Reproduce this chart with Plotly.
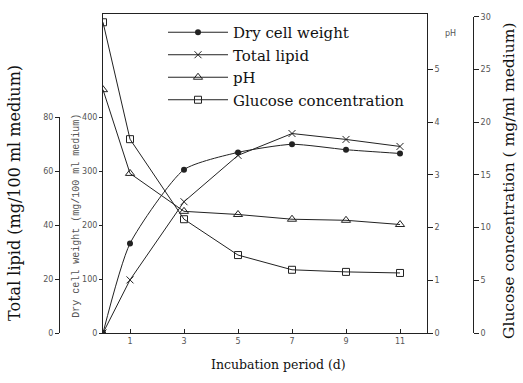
import plotly.graph_objects as go

# ---- data ----
days = [0, 1, 3, 5, 7, 9, 11]
dry_cell_weight = [0, 166, 303, 335, 350, 340, 333]      # mg/100 ml medium
total_lipid = [0, 19.7, 48.7, 65.9, 74.0, 71.8, 69.2]    # mg/100 ml medium
ph_values = [4.62, 3.03, 2.31, 2.25, 2.16, 2.14, 2.06]
glucose = [29.5, 18.4, 10.8, 7.4, 6.0, 5.8, 5.7]         # mg/ml medium

x_ticks = [1, 3, 5, 7, 9, 11]
dcw_ticks = [0, 100, 200, 300, 400]
lipid_ticks = [0, 20, 40, 60, 80]
ph_ticks = [0, 1, 2, 3, 4, 5]
glucose_ticks = [0, 5, 10, 15, 20, 25, 30]

W, H = 523, 383
ML, MR, MT, MB = 20, 10, 12, 50
PW = W - ML - MR
PH = H - MT - MB

def px(xp):
    return (xp - ML) / PW

def py(yp):
    return (H - MB - yp) / PH

INK = "#222222"
TICK = "#555555"
tickfont = dict(family="DejaVu Sans", size=8, color=TICK)

fig = go.Figure()
fig.add_trace(go.Scatter(
    x=days, y=dry_cell_weight, name="Dry cell weight", mode="lines+markers",
    line=dict(color=INK, width=1, shape="spline", smoothing=0.6),
    marker=dict(symbol="circle", size=6, color=INK),
    xaxis="x", yaxis="y"))
fig.add_trace(go.Scatter(
    x=days, y=total_lipid, name="Total lipid", mode="lines+markers",
    line=dict(color=INK, width=1),
    marker=dict(symbol="x-thin-open", size=7, color=INK, line=dict(width=1, color=INK)),
    xaxis="x", yaxis="y2"))
fig.add_trace(go.Scatter(
    x=days, y=ph_values, name="pH", mode="lines+markers",
    line=dict(color=INK, width=1),
    marker=dict(symbol="triangle-up-open", size=8, color=INK, line=dict(width=1, color=INK)),
    xaxis="x", yaxis="y3"))
fig.add_trace(go.Scatter(
    x=days, y=glucose, name="Glucose concentration", mode="lines+markers",
    line=dict(color=INK, width=1),
    marker=dict(symbol="square-open", size=7, color=INK, line=dict(width=1, color=INK)),
    xaxis="x", yaxis="y4"))

fig.update_layout(
    width=W, height=H, autosize=False,
    margin=dict(l=ML, r=MR, t=MT, b=MB),
    paper_bgcolor="white", plot_bgcolor="rgba(0,0,0,0)",
    showlegend=True,
    legend=dict(x=px(163), y=py(14), xanchor="left", yanchor="top",
                bgcolor="rgba(0,0,0,0)", borderwidth=0, itemwidth=60,
                font=dict(family="DejaVu Serif", size=15, color="#111111"),
                tracegroupgap=0),
    xaxis=dict(domain=[px(103), px(427)], range=[0, 12], tickvals=x_ticks,
               ticks="inside", ticklen=4, tickcolor=INK, showline=True,
               linecolor=INK, linewidth=1, mirror=True, showgrid=False,
               zeroline=False, tickfont=tickfont, anchor="y"),
    yaxis=dict(domain=[0, 1], range=[0, 400 * PH / 217], tickvals=dcw_ticks,
               ticks="outside", ticklen=3, tickcolor=INK, showline=True,
               linecolor=INK, linewidth=1, showgrid=False, zeroline=False,
               tickfont=tickfont, anchor="x", side="left"),
    yaxis2=dict(domain=[0, 217 / PH], range=[0, 80], tickvals=lipid_ticks,
                ticks="outside", ticklen=4, tickcolor=INK, showline=True,
                linecolor=INK, linewidth=1, showgrid=False, zeroline=False,
                tickfont=tickfont, anchor="free", position=px(59), side="left"),
    yaxis3=dict(overlaying="y", range=[0, PH / 53.0], tickvals=ph_ticks,
                ticks="outside", ticklen=5, tickcolor=INK, showline=True,
                linecolor=INK, linewidth=1, showgrid=False, zeroline=False,
                tickfont=tickfont, anchor="x", side="right"),
    yaxis4=dict(domain=[0, 318 / PH], range=[0, 30], tickvals=glucose_ticks,
                ticks="outside", ticklen=5, tickcolor=INK, showline=True,
                linecolor=INK, linewidth=1, showgrid=False, zeroline=False,
                tickfont=tickfont, anchor="free", position=px(473), side="right"),
)

ann = [
    dict(text="Total lipid (mg/100 ml medium)", x=px(15), y=py(192), textangle=-90,
         font=dict(family="DejaVu Serif", size=16, color="#111111")),
    dict(text="Dry cell weight (mg/100 ml medium)", x=px(77), y=py(215), textangle=-90,
         font=dict(family="Liberation Mono", size=10, color=TICK)),
    dict(text="Glucose concentration ( mg/ml medium)", x=px(509), y=py(180), textangle=-90,
         font=dict(family="DejaVu Serif", size=15.5, color="#111111")),
    dict(text="pH", x=px(450), y=py(32),
         font=dict(family="DejaVu Sans", size=8, color=TICK)),
    dict(text="Incubation period (d)", x=px(278), y=py(365),
         font=dict(family="DejaVu Serif", size=12.5, color="#111111")),
]
for a in ann:
    a.update(xref="paper", yref="paper", showarrow=False, xanchor="center", yanchor="middle")
fig.update_layout(annotations=ann)

fig.write_html("out.html", config={"displayModeBar": False},
               post_script="document.body.style.margin='0px';")
